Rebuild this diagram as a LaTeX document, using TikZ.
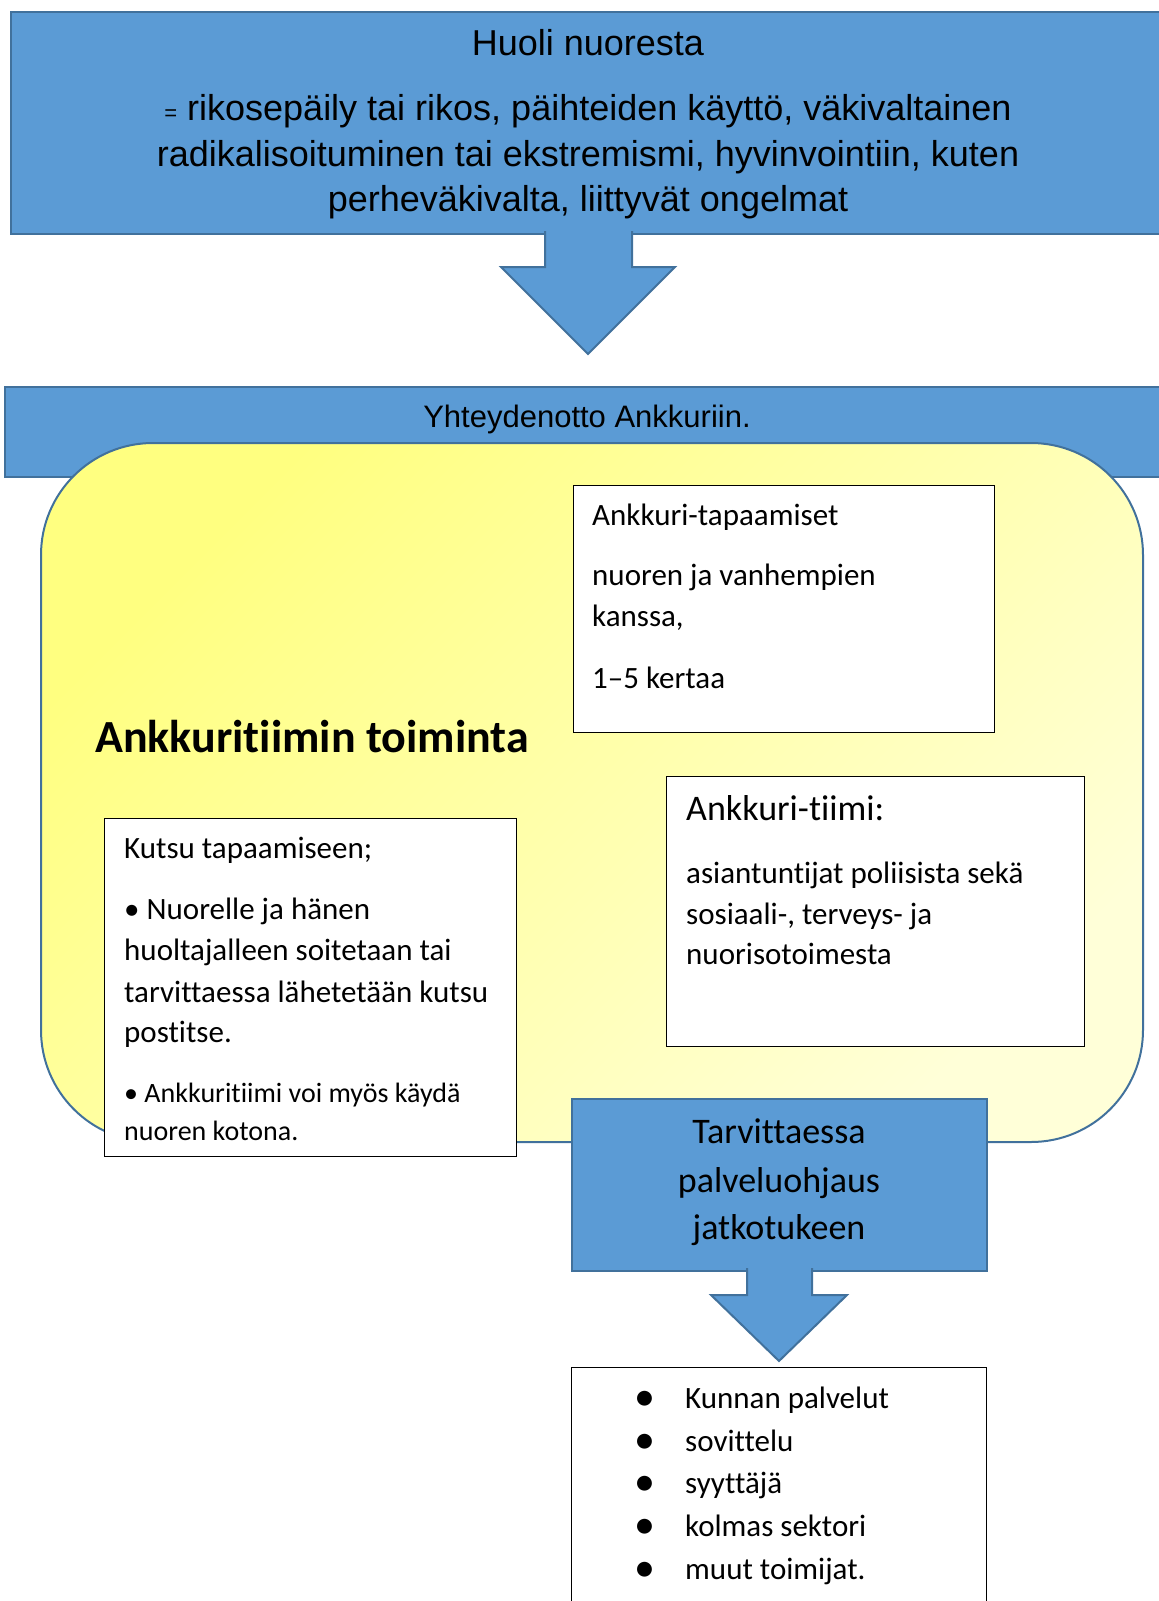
\documentclass[tikz,border=0pt]{standalone}
\usepackage{fontspec}
\setmainfont{Carlito}[Ligatures={NoCommon}]
\newfontfamily\arialf{Liberation Sans}
\definecolor{blueF}{HTML}{5B9BD5}
\definecolor{blueD}{HTML}{41719C}
\definecolor{yelA}{HTML}{FFFF80}
\definecolor{yelB}{HTML}{FFFFD8}
\begin{document}
\begin{tikzpicture}[x=1pt,y=-1pt,
  bluebox/.style={draw=blueD, fill=blueF, line width=2pt, inner sep=0pt},
  whitebox/.style={draw=black, fill=white, line width=1.3pt, inner sep=0pt, anchor=north west},
  ln/.style={anchor=base west, inner sep=0pt, font=\fontsize{31}{31}\selectfont},
  lnsmall/.style={anchor=base west, inner sep=0pt, font=\fontsize{28}{28}\selectfont},
  big/.style={anchor=base, inner sep=0pt, font=\fontsize{36}{36}\selectfont},
  arl/.style={anchor=base, inner sep=0pt, font=\arialf\fontsize{36}{36}\selectfont},
  arlsmall/.style={anchor=base, inner sep=0pt, font=\arialf\fontsize{31}{31}\selectfont},
  bul/.style={anchor=base, inner sep=0pt, font=\fontsize{42}{42}\selectfont}]
\useasboundingbox (0,0) rectangle (1159,1601);

% top box
\node[bluebox, anchor=north west, minimum width=1160, minimum height=222] (top) at (10,11) {};
\node[arl] (h1) at (588,55) {Huoli nuoresta};
\node[arl] (h2) at (588,120) {{\fontsize{22}{22}\selectfont =} rikosepäily tai rikos, päihteiden käyttö, väkivaltainen};
\node[arl] (h3) at (588,166) {radikalisoituminen tai ekstremismi, hyvinvointiin, kuten};
\node[arl] (h4) at (588,211) {perheväkivalta, liittyvät ongelmat};

% arrow 1
\draw[bluebox] (545,231) -- (545,267) -- (501,267) -- (588,354) -- (675,267) -- (632,267) -- (632,231);

% band
\node[bluebox, anchor=north west, minimum width=1170, minimum height=90] (band) at (4,386) {};
\node[arlsmall] (yt) at (587,427) {Yhteydenotto Ankkuriin.};

% yellow rounded box
\node[draw=blueD, line width=2pt, rounded corners=112pt, top color=yelA, bottom color=yelB, shading angle=45,
      anchor=north west, minimum width=1102, minimum height=699, inner sep=0pt] (ank) at (40,442) {};

\node[anchor=base west, inner sep=0pt, font=\bfseries\fontsize{46}{46}\selectfont] (title) at (95,752) {Ankkuritiimin toiminta};

% Ankkuri-tapaamiset box
\node[whitebox, minimum width=421, minimum height=247] (tap) at (573,485) {};
\node[ln] (tap1) at (592,525) {Ankkuri-tapaamiset};
\node[ln] (tap2) at (592,585) {nuoren ja vanhempien};
\node[ln] (tap3) at (592,626) {kanssa,};
\node[ln] (tap4) at (592,688) {1–5 kertaa};

% Ankkuri-tiimi box
\node[whitebox, minimum width=418, minimum height=270] (tiimi) at (666,776) {};
\node[anchor=base west, inner sep=0pt, font=\fontsize{36}{36}\selectfont] (ti1) at (686,820) {Ankkuri-tiimi:};
\node[ln] (ti2) at (686,883) {asiantuntijat poliisista sekä};
\node[ln] (ti3) at (686,924) {sosiaali-, terveys- ja};
\node[ln] (ti4) at (686,964) {nuorisotoimesta};

% Kutsu box
\node[whitebox, minimum width=412, minimum height=338] (kutsu) at (104,818) {};
\node[ln] (k1) at (124,858) {Kutsu tapaamiseen;};
\node[ln] (k2) at (124,919) {• Nuorelle ja hänen};
\node[ln] (k3) at (124,960) {huoltajalleen soitetaan tai};
\node[ln] (k4) at (124,1002) {tarvittaessa lähetetään kutsu};
\node[ln] (k5) at (124,1042) {postitse.};
\node[lnsmall] (k6) at (124,1102) {• Ankkuritiimi voi myös käydä};
\node[lnsmall] (k7) at (124,1140) {nuoren kotona.};

% Tarvittaessa box
\node[bluebox, anchor=north west, minimum width=415, minimum height=172] (tarv) at (571,1098) {};
\node[big] (tv1) at (779,1143) {Tarvittaessa};
\node[big] (tv2) at (779,1192) {palveluohjaus};
\node[big] (tv3) at (779,1239) {jatkotukeen};

% arrow 2
\draw[bluebox] (747,1268) -- (747,1295) -- (711,1295) -- (779,1361) -- (847,1295) -- (812,1295) -- (812,1268);

% bottom list box
\node[whitebox, minimum width=415, minimum height=260] (list) at (571,1367) {};
\node[bul] (b1) at (645,1410) {•};
\node[bul] (b2) at (645,1453) {•};
\node[bul] (b3) at (645,1495) {•};
\node[bul] (b4) at (645,1538) {•};
\node[bul] (b5) at (645,1581) {•};
\node[ln] (l1) at (685,1408) {Kunnan palvelut};
\node[ln] (l2) at (685,1451) {sovittelu};
\node[ln] (l3) at (685,1493) {syyttäjä};
\node[ln] (l4) at (685,1536) {kolmas sektori};
\node[ln] (l5) at (685,1579) {muut toimijat.};
\end{tikzpicture}
\end{document}
